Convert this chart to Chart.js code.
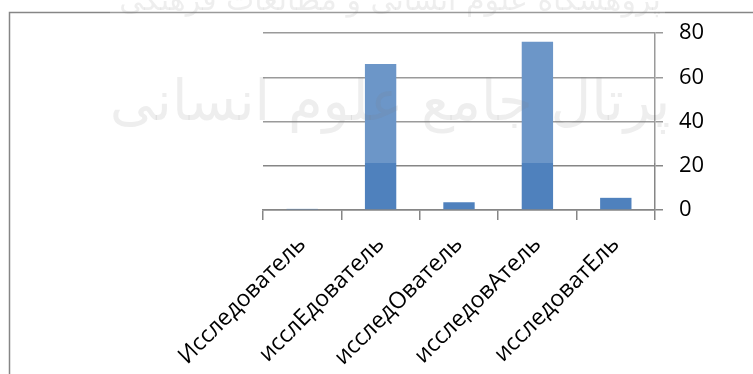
<!DOCTYPE html>
<html>
<head>
<meta charset="utf-8">
<script src="https://cdn.jsdelivr.net/npm/chart.js@4/dist/chart.umd.min.js"></script>
<style>
html,body{margin:0;padding:0;background:#fff;font-family:"Open Sans";}
#wrap{width:753px;height:374px;position:relative;}
</style>
</head>
<body>
<div id="wrap"><canvas id="c" width="753" height="374"></canvas></div>
<script>
const categories = ['Исследователь', 'исслЕдователь', 'исследОватель', 'исследовАтель', 'исследоватЕль'];
const values = [0.5, 66, 3.5, 76, 5.5];
const yTicks = [0, 20, 40, 60, 80];
const watermarkTitle = 'پرتال جامع علوم انسانی';
const watermarkTop = 'پژوهشگاه علوم انسانی و مطالعات فرهنگی';

const FONT = "'Open Sans', 'Liberation Sans', sans-serif";

const frame = {
  id: 'frame',
  beforeDraw(chart) {
    const ctx = chart.ctx;
    ctx.save();
    ctx.strokeStyle = '#868686';
    ctx.lineWidth = 1.5;
    ctx.beginPath();
    ctx.moveTo(9.5, 374);
    ctx.lineTo(9.5, 12.5);
    ctx.lineTo(753, 12.5);
    ctx.stroke();
    ctx.restore();
  },
  afterDraw(chart) {
    const ctx = chart.ctx;
    ctx.save();
    ctx.fillStyle = 'rgba(255,255,255,0.17)';
    ctx.fillRect(110, 0, 555, 163);
    ctx.fillStyle = 'rgba(120,120,120,0.13)';
    ctx.textAlign = 'center';
    ctx.textBaseline = 'middle';
    ctx.direction = 'rtl';
    ctx.font = '56px "DejaVu Sans"';
    ctx.fillText(watermarkTitle, 390, 105);
    ctx.font = '30px "DejaVu Sans"';
    ctx.fillText(watermarkTop, 390, 2);
    ctx.restore();
  }
};

function draw() {
  new Chart(document.getElementById('c'), {
    type: 'bar',
    data: {
      labels: categories,
      datasets: [{
        data: values,
        backgroundColor: '#4F81BD',
        borderWidth: 0,
        barPercentage: 0.4,
        categoryPercentage: 1.0
      }]
    },
    options: {
      responsive: false,
      animation: false,
      devicePixelRatio: 1,
      layout: { padding: { left: 263, top: 33, right: 0, bottom: 0 } },
      plugins: { legend: { display: false }, tooltip: { enabled: false } },
      scales: {
        x: {
          offset: true,
          grid: { offset: true, drawOnChartArea: false, drawTicks: true, tickLength: 10, color: '#868686', lineWidth: 1.5 },
          border: { display: true, color: '#868686', width: 1.5 },
          ticks: {
            color: '#000',
            font: { family: FONT, size: 23 },
            minRotation: 45, maxRotation: 45, padding: 11
          },
          afterFit(scale) { scale.height = 164; }
        },
        y: {
          position: 'right',
          min: 0, max: 80,
          afterBuildTicks(scale) { scale.ticks = yTicks.map(v => ({ value: v })); },
          grid: { color: '#868686', lineWidth: 1.5, drawTicks: true, tickLength: 8 },
          border: { display: true, color: '#868686', width: 1.5 },
          ticks: {
            color: '#000',
            font: { family: FONT, size: 22 },
            padding: 16
          },
          afterFit(scale) { scale.width = 98; }
        }
      }
    },
    plugins: [frame]
  });
}

Promise.all([
  document.fonts.load("23px 'Open Sans'", 'Исследователь 0123456789'),
  document.fonts.load('56px "DejaVu Sans"', watermarkTitle)
]).then(draw, draw);
</script>
</body>
</html>
